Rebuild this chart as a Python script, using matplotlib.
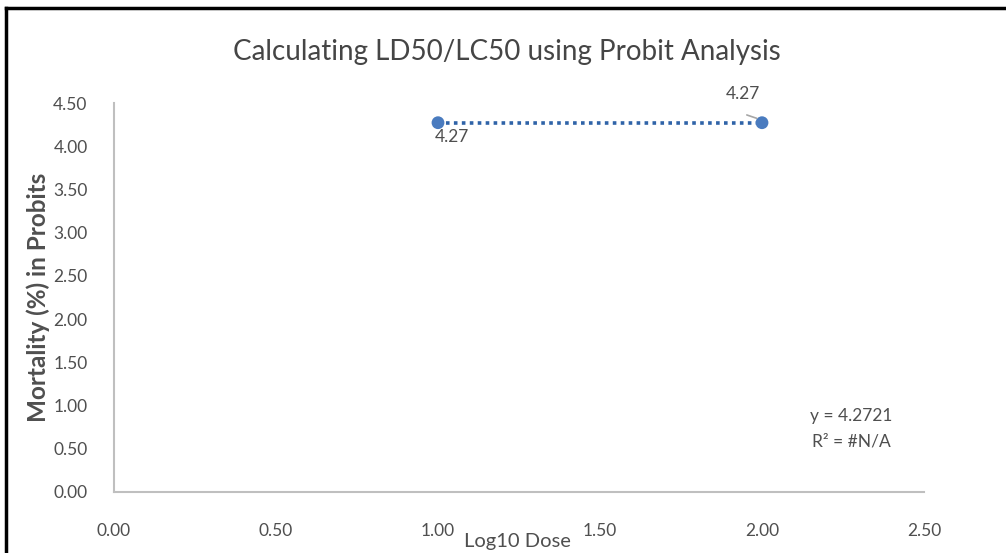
import numpy as np
import matplotlib
matplotlib.use("Agg")
import matplotlib.pyplot as plt
from matplotlib.lines import Line2D

# Probit data
log_dose = [1.00, 2.00]
probit = [4.2721, 4.2721]

title = "Calculating LD50/LC50 using Probit Analysis"
x_label = "Log10 Dose"
y_label = "Mortality (%) in Probits"
x_ticks = [0.0, 0.5, 1.0, 1.5, 2.0, 2.5]
y_ticks = [0.0, 0.5, 1.0, 1.5, 2.0, 2.5, 3.0, 3.5, 4.0, 4.5]

TEXT = "#4F4F4F"
AXIS = "#BFBFBF"
MARKER = "#4A7BBF"
TREND = "#2F63A8"

plt.rcParams["font.family"] = ["Lato", "DejaVu Sans"]

W, H = 1006, 553
fig = plt.figure(figsize=(W / 100, H / 100), dpi=100)
fig.patch.set_facecolor("white")

# plot area in pixel coordinates
left, right, top, bottom = 114, 924, 103, 492
ax = fig.add_axes([left / W, 1 - bottom / H, (right - left) / W, (bottom - top) / H])

# linear trendline through the points
slope, intercept = np.polyfit(log_dose, probit, 1)
xs = np.array([min(log_dose), max(log_dose)])
ax.plot(xs, slope * xs + intercept, linestyle=(0, (1, 1.2)), color=TREND,
        linewidth=2.6, dash_capstyle="butt", zorder=2)

ax.scatter(log_dose, probit, s=85, color=MARKER, zorder=3, edgecolors="none")

# data labels
ax.annotate(f"{probit[0]:.2f}", xy=(log_dose[0], probit[0]), xytext=(-3, -14),
            textcoords="offset pixels", ha="left", va="center",
            fontsize=12.5, color=TEXT)
ax.annotate(f"{probit[1]:.2f}", xy=(log_dose[1], probit[1]), xytext=(-2, 29),
            textcoords="offset pixels", ha="right", va="center",
            fontsize=12.5, color=TEXT)
ax.annotate("", xy=(log_dose[1] - 0.008, probit[1] + 0.04),
            xytext=(log_dose[1] - 0.055, probit[1] + 0.1),
            arrowprops=dict(arrowstyle="-", color="#A6A6A6", lw=1.2))

# trendline equation
r2 = "#N/A"
ax.text(2.275, 0.88, f"y = {intercept:.4f}", ha="center", va="center",
        fontsize=12.5, color=TEXT)
ax.text(2.275, 0.58, "R\u00b2 = " + r2, ha="center", va="center",
        fontsize=12.5, color=TEXT)

ax.set_xlim(0, 2.5)
ax.set_ylim(0, 4.5)
ax.set_xticks(x_ticks)
ax.set_yticks(y_ticks)
ax.set_xticklabels([f"{v:.2f}" for v in x_ticks])
ax.set_yticklabels([f"{v:.2f}" for v in y_ticks])
ax.tick_params(axis="both", length=0, labelsize=12.5, labelcolor=TEXT)
ax.tick_params(axis="y", pad=19)
ax.tick_params(axis="x", pad=22)

for side in ("top", "right"):
    ax.spines[side].set_visible(False)
for side in ("left", "bottom"):
    ax.spines[side].set_color(AXIS)
    ax.spines[side].set_linewidth(1.5)

ax.set_facecolor("none")

fig.text(517 / W, 1 - 542 / H, x_label, ha="center", va="center",
         fontsize=14.5, color=TEXT)
fig.text(38 / W, 1 - 297 / H, y_label, ha="center", va="center",
         rotation=90, fontsize=17.5, fontweight="bold", color=TEXT)
fig.text(507 / W, 1 - 52 / H, title, ha="center", va="center",
         fontsize=20, color="#454545")

# outer frame
fig.add_artist(Line2D([6 / W, 1], [1 - 8 / H, 1 - 8 / H], color="black",
                      linewidth=2.5, transform=fig.transFigure))
fig.add_artist(Line2D([6 / W, 6 / W], [0, 1 - 8 / H], color="black",
                      linewidth=2.5, transform=fig.transFigure))

fig.savefig("out.png", dpi=100)
